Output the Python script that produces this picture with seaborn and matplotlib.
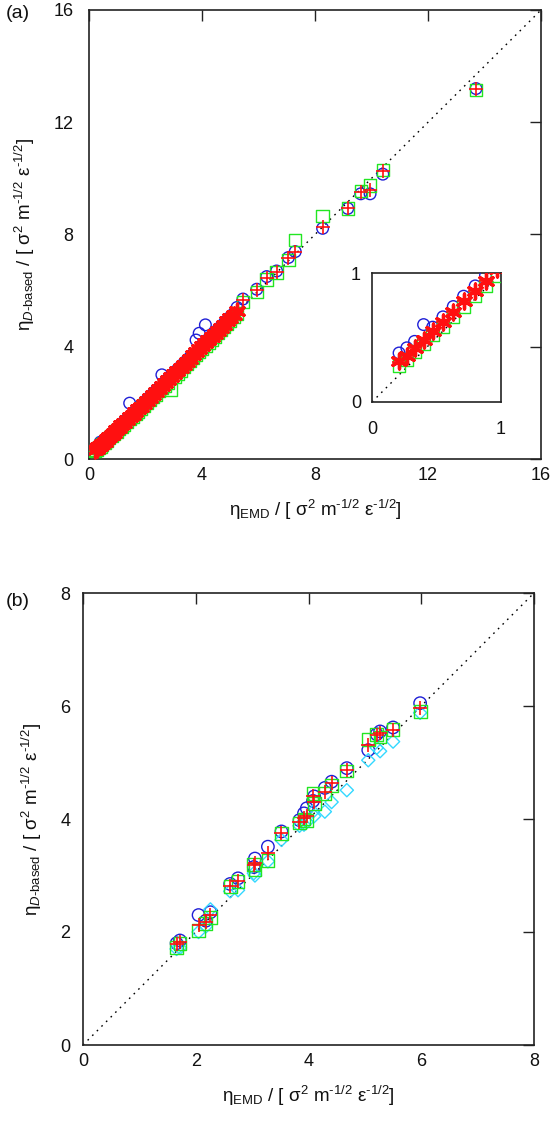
import matplotlib
matplotlib.use("Agg")
import matplotlib.pyplot as plt
import seaborn as sns
import pandas as pd

sns.set_theme(style="white")
plt.rcParams['font.family'] = ['Liberation Sans', 'DejaVu Sans']
plt.rcParams['mathtext.fontset'] = 'custom'
plt.rcParams['mathtext.rm'] = 'Liberation Sans'
plt.rcParams['mathtext.it'] = 'Liberation Sans:italic'
plt.rcParams['mathtext.bf'] = 'Liberation Sans:bold'

# ---------------- panel (a) data ----------------
xa_dense = [0.21,0.27,0.33,0.40,0.47,0.55,0.63,0.71,0.80,0.88,0.97,1.06,1.15,1.24,1.34,1.44,1.54,1.64,1.74,1.84,
            1.95,2.05,2.16,2.26,2.37,2.48,2.58,2.69,2.80,2.91,3.02,3.13,3.24,3.35,3.46,3.57,3.68,3.79,3.90,4.01,
            4.12,4.23,4.34,4.45,4.56,4.67,4.78,4.89,5.00,5.12,5.24]
ya_star = [0.32,0.36,0.42,0.48,0.55,0.62,0.70,0.78,0.86,0.94,1.03,1.11,1.20,1.29,1.38,1.48,1.57,1.67,1.77,1.87,
           1.97,2.07,2.18,2.28,2.39,2.49,2.60,2.71,2.82,2.92,3.03,3.14,3.25,3.36,3.47,3.58,3.69,3.80,3.91,4.02,
           4.13,4.24,4.35,4.46,4.57,4.68,4.79,4.90,5.02,5.14,5.28]
ya_circle_dense = [0.38,0.42,0.47,0.60,0.58,0.66,0.74,0.82,0.90,0.98,1.07,1.15,1.24,1.33,1.42,1.99,1.61,1.71,1.81,1.91,
                   2.01,2.11,2.22,2.32,2.43,2.53,3.00,2.75,2.86,2.96,3.07,3.18,3.29,3.40,3.51,3.62,3.73,4.24,4.48,4.06,
                   4.78,4.28,4.39,4.50,4.61,4.72,4.83,4.94,5.06,5.18,5.40]
ya_square_dense = [0.28,0.33,0.39,0.45,0.52,0.58,0.66,0.74,0.82,0.90,0.98,1.06,1.15,1.22,1.32,1.42,1.50,1.60,1.70,1.80,
                   1.90,2.00,2.10,2.20,2.30,2.42,2.52,2.62,2.72,2.46,2.94,3.05,3.16,3.27,3.38,3.49,3.60,3.71,3.82,3.93,
                   4.04,4.15,4.26,4.37,4.48,4.59,4.70,4.81,4.93,5.05,5.18]
ya_plus_dense = [0.31,0.36,0.42,0.48,0.55,0.62,0.70,0.78,0.86,0.94,1.02,1.11,1.20,1.29,1.38,1.47,1.57,1.67,1.77,1.86,
                 1.97,2.07,2.17,2.28,2.38,2.49,2.60,2.70,2.81,2.92,3.03,3.14,3.25,3.35,3.46,3.58,3.69,3.80,3.91,4.02,
                 4.13,4.24,4.35,4.46,4.57,4.68,4.79,4.90,5.01,5.14,5.27]

xa_sparse = [5.45, 5.94, 6.29, 6.64, 7.06, 7.30, 8.27, 9.16, 9.62, 9.95, 10.40, 13.70]
ya_circle_sparse = [5.70, 6.05, 6.50, 6.70, 7.18, 7.39, 8.22, 8.93, 9.45, 9.45, 10.15, 13.20]
ya_square_sparse = [5.60, 5.95, 6.40, 6.65, 7.10, 7.80, 8.66, 8.93, 9.55, 9.75, 10.30, 13.15]
ya_plus_sparse = [5.67, 6.02, 6.44, 6.68, 7.15, 7.39, 8.28, 8.93, 9.52, 9.60, 10.25, 13.20]

# ---------------- panel (b) data ----------------
xb = [1.66, 1.72, 2.05, 2.18, 2.26, 2.61, 2.75, 3.03, 3.05, 3.28, 3.52, 3.84, 3.92, 3.97, 4.08, 4.10,
      4.29, 4.41, 4.68, 5.06, 5.21, 5.27, 5.50, 5.98]
yb_circle = [1.80, 1.85, 2.30, 2.20, 2.35, 2.85, 2.95, 3.15, 3.30, 3.51, 3.78, 3.98, 4.10, 4.19, 4.32, 4.40,
             4.55, 4.66, 4.90, 5.22, 5.50, 5.55, 5.62, 6.05]
yb_square = [1.72, 1.80, 2.02, 2.15, 2.25, 2.80, 2.89, 3.20, 3.10, 3.27, 3.75, 3.93, 4.00, 3.98, 4.45, 4.28,
             4.45, 4.60, 4.85, 5.40, 5.50, 5.45, 5.58, 5.90]
yb_plus = [1.78, 1.83, 2.12, 2.18, 2.30, 2.82, 2.90, 3.18, 3.22, 3.39, 3.75, 3.95, 4.02, 4.05, 4.40, 4.30,
           4.48, 4.63, 4.87, 5.31, 5.48, 5.52, 5.58, 5.97]
yb_diamond = [1.70, 1.72, 2.00, 2.10, 2.40, 2.72, 2.74, 3.04, 3.00, 3.25, 3.63, 3.88, 3.90, 3.95, 4.13, 4.05,
              4.13, 4.30, 4.51, 5.04, 5.26, 5.20, 5.37, 5.88]

ticks_a = [0, 4, 8, 12, 16]
ticks_b = [0, 2, 4, 6, 8]

BLUE = '#1f1fd6'
GREEN = '#22e622'
RED = '#ff1010'
CYAN = '#33d8ff'

xa_all = xa_dense + xa_sparse
df_a = pd.DataFrame({
    'x': xa_all,
    'circle': ya_circle_dense + ya_circle_sparse,
    'square': ya_square_dense + ya_square_sparse,
    'plus': ya_plus_dense + ya_plus_sparse,
})
df_star = pd.DataFrame({'x': xa_dense, 'star': ya_star})
df_b = pd.DataFrame({'x': xb, 'circle': yb_circle, 'square': yb_square,
                     'plus': yb_plus, 'diamond': yb_diamond})

ASTER = (6, 2, 0)

fig = plt.figure(figsize=(5.55, 11.33), dpi=100)
ax_a = fig.add_axes([89/555, 1-459/1133, 452/555, 449/1133])
ax_b = fig.add_axes([83/555, 1-1045/1133, 451/555, 452/1133])
ax_in = fig.add_axes([372/555, 1-402/1133, 129/555, 129/1133])


def draw_a(ax, sz=1.0):
    sns.scatterplot(data=df_a, x='x', y='circle', ax=ax, marker='o', s=70*sz,
                    facecolor='none', edgecolor=BLUE, linewidth=1.0, zorder=3)
    sns.scatterplot(data=df_a, x='x', y='square', ax=ax, marker='s', s=80*sz,
                    facecolor='none', edgecolor=GREEN, linewidth=1.0, zorder=4)
    sns.scatterplot(data=df_star, x='x', y='star', ax=ax, marker=ASTER, s=115*sz,
                    color=RED, linewidth=2.4, zorder=5)
    sns.scatterplot(data=df_a, x='x', y='plus', ax=ax, marker='+', s=90*sz,
                    color=RED, linewidth=1.2, zorder=6)


def style_axes(ax, ticks, lim, ypad):
    ax.set_xlim(lim)
    ax.set_ylim(lim)
    ax.set_xticks(ticks)
    ax.set_yticks(ticks)
    ax.tick_params(axis='both', direction='in', top=True, right=True, length=8, width=1.0,
                   color='#222222', labelsize=13, labelcolor='#111111')
    ax.tick_params(axis='x', pad=6)
    ax.tick_params(axis='y', pad=ypad)
    for sp in ax.spines.values():
        sp.set_linewidth(1.2)
        sp.set_color('#222222')


xlabel = 'η$_{\\mathrm{EMD}}$ / [ σ$^{2}$ m$^{\\text{-1/2}}$ ε$^{\\text{-1/2}}$]'
ylabel = 'η$_{D\\text{-based}}$ / [ σ$^{2}$ m$^{\\text{-1/2}}$ ε$^{\\text{-1/2}}$]'

DOT = (0, (1.2, 3.5))

# panel (a)
ax_a.plot([0, 16], [0, 16], color='black', lw=1.0, ls=DOT, zorder=2)
draw_a(ax_a)
style_axes(ax_a, ticks_a, (0, 16), 11)
ax_a.set_xlabel(xlabel, fontsize=13.5, labelpad=10, color='#111111')
ax_a.set_ylabel(ylabel, fontsize=13.5, labelpad=12, color='#111111')

# inset
ax_in.plot([0, 1], [0, 1], color='black', lw=1.0, ls=DOT, zorder=2)
draw_a(ax_in)
ax_in.set_xlim(0, 1)
ax_in.set_ylim(0, 1)
ax_in.set_xticks([0, 1])
ax_in.set_yticks([0, 1])
ax_in.tick_params(axis='both', length=0, labelsize=13, labelcolor='#111111')
ax_in.tick_params(axis='x', pad=14)
ax_in.tick_params(axis='y', pad=8)
ax_in.set_xlabel('')
ax_in.set_ylabel('')
for sp in ax_in.spines.values():
    sp.set_linewidth(1.2)
    sp.set_color('#222222')

# panel (b)
ax_b.plot([0, 8], [0, 8], color='black', lw=1.0, ls=DOT, zorder=2)
sns.scatterplot(data=df_b, x='x', y='circle', ax=ax_b, marker='o', s=80,
                facecolor='none', edgecolor=BLUE, linewidth=1.0, zorder=3)
sns.scatterplot(data=df_b, x='x', y='diamond', ax=ax_b, marker='D', s=45,
                facecolor='none', edgecolor=CYAN, linewidth=1.0, zorder=4)
sns.scatterplot(data=df_b, x='x', y='square', ax=ax_b, marker='s', s=85,
                facecolor='none', edgecolor=GREEN, linewidth=1.0, zorder=5)
sns.scatterplot(data=df_b, x='x', y='plus', ax=ax_b, marker='+', s=110,
                color=RED, linewidth=1.2, zorder=6)
style_axes(ax_b, ticks_b, (0, 8), 9)
ax_b.set_xlabel(xlabel, fontsize=13.5, labelpad=10, color='#111111')
ax_b.set_ylabel(ylabel, fontsize=13.5, labelpad=12, color='#111111')

fig.text(18/555, 1-14/1133, '(a)', fontsize=14, ha='center', va='center', color='#111111')
fig.text(18/555, 1-602/1133, '(b)', fontsize=14, ha='center', va='center', color='#111111')

fig.savefig('out.png', dpi=100)
